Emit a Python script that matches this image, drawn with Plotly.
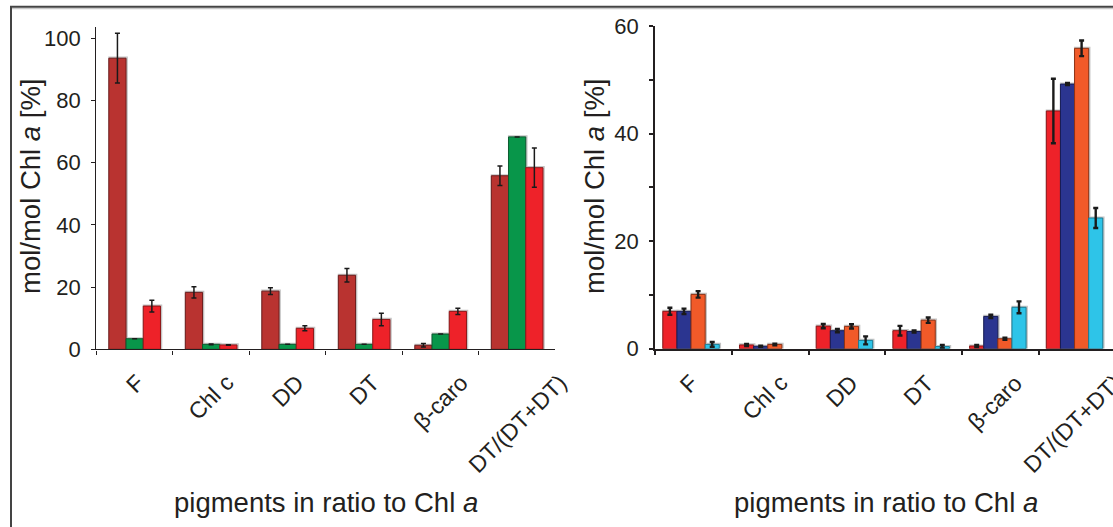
import plotly.graph_objects as go

W, H = 1113, 527

categories = ["F", "Chl c", "DD", "DT", "β-caro", "DT/(DT+DT)"]

# Left panel series
left_darkred = [93.6, 18.3, 18.7, 23.8, 1.3, 55.8]
left_darkred_err = [8.0, 1.8, 1.1, 2.2, 0.6, 3.1]
left_green = [3.4, 1.6, 1.6, 1.6, 4.9, 68.3]
left_green_err = [None, 0.1, None, None, None, None]
left_red = [13.9, 1.4, 6.75, 9.6, 12.2, 58.4]
left_red_err = [1.9, 0.1, 0.8, 2.0, 1.0, 6.3]

# Right panel series
right_red = [6.95, 0.7, 4.2, 3.35, 0.5, 44.2]
right_red_err = [0.65, 0.2, 0.4, 0.9, 0.2, 6.0]
right_blue = [6.95, 0.45, 3.35, 3.2, 6.0, 49.2]
right_blue_err = [0.5, 0.1, 0.3, 0.2, 0.3, 0.2]
right_orange = [10.1, 0.8, 4.15, 5.3, 1.85, 55.85]
right_orange_err = [0.6, 0.15, 0.4, 0.5, 0.2, 1.45]
right_cyan = [0.8, None, 1.55, 0.4, 7.7, 24.3]
right_cyan_err = [0.45, None, 0.75, 0.3, 1.1, 1.85]

left_ticks = [0, 20, 40, 60, 80, 100]
right_ticks = [0, 10, 20, 30, 40, 50, 60]
right_ticktext = ["0", "", "20", "", "40", "", "60"]

FONT = "Liberation Sans, Arial, sans-serif"
TXT = "#231F20"


def px_x(p):
    return p / W


def px_y(p):
    return 1 - p / H


# geometry (pixels)
L_X0, L_X1 = 96.4, 555.4
L_Y0, L_Y1 = 349.3, 26.7
L_PXU = 3.11
R_X0, R_X1 = 655.2, 1113
R_Y0, R_Y1 = 348.7, 26.0
CAT_PX_L = (L_X1 - L_X0) / 6
CAT_PX_R = 76.7

fig = go.Figure()


def add_series(vals, errs, color, line_color, offset, width, xa, ya, err_th, cat_px, unit_px):
    # light grey halo/shadow behind each bar
    sh_vals = [None if v is None else v + 1.6 / unit_px for v in vals]
    fig.add_trace(go.Bar(
        x=categories, y=sh_vals, xaxis=xa, yaxis=ya,
        offset=offset - 0.6 / cat_px, width=width + 2.4 / cat_px,
        marker=dict(color="#C4C4C4", line=dict(width=0)),
        showlegend=False, hoverinfo="skip"))
    return dict(x=categories, y=vals, xaxis=xa, yaxis=ya, offset=offset, width=width,
                marker=dict(color=color, line=dict(color=line_color, width=1)),
                error_y=dict(type="data", array=errs, visible=True, color="#1A1A1A",
                             thickness=err_th, width=2.5),
                showlegend=False)


bars = []
wl = 0.225
lser = [
    (left_darkred, left_darkred_err, "#B93330", "#6E1C1C"),
    (left_green, left_green_err, "#08964A", "#0B5A2F"),
    (left_red, left_red_err, "#EE2229", "#8E1719"),
]
for i, (v, e, c, lc) in enumerate(lser):
    bars.append(add_series(v, e, c, lc, -1.5 * wl + i * wl, wl, "x", "y", 1.5, CAT_PX_L, L_PXU))

wr = 0.184
r_shift = -2.5 / CAT_PX_R
R_PXU = (R_Y0 - R_Y1) / 60
rser = [
    (right_red, right_red_err, "#EE2229", "#8E1719"),
    (right_blue, right_blue_err, "#2B3590", "#161C55"),
    (right_orange, right_orange_err, "#F15A29", "#8E3214"),
    (right_cyan, right_cyan_err, "#2EC4E8", "#1B7C95"),
]
for i, (v, e, c, lc) in enumerate(rser):
    bars.append(add_series(v, e, c, lc, -2 * wr + i * wr + r_shift, wr, "x2", "y2", 2.4, CAT_PX_R, R_PXU))

for b in bars:
    fig.add_trace(go.Bar(**b))

axis_font = dict(family=FONT, size=22, color=TXT)

fig.update_layout(
    width=W, height=H, autosize=False,
    margin=dict(l=0, r=0, t=0, b=0, pad=0, autoexpand=False),
    showlegend=False,
    paper_bgcolor="white", plot_bgcolor="white",
    barmode="overlay",
    font=dict(family=FONT, color=TXT),
    xaxis=dict(domain=[px_x(L_X0), px_x(L_X1)], type="category",
               categoryorder="array", categoryarray=categories,
               range=[-0.5, 5.5], showline=True, linecolor=TXT, linewidth=1.4,
               ticks="outside", tickson="boundaries", ticklen=4, tickwidth=1.2,
               tickcolor=TXT, showticklabels=False, showgrid=False, zeroline=False,
               anchor="y", automargin=False),
    yaxis=dict(domain=[px_y(L_Y0), px_y(L_Y1)],
               range=[0, (L_Y0 - L_Y1) / L_PXU], showline=True, linecolor=TXT,
               linewidth=1.4, ticks="outside", ticklen=4, tickwidth=1.2, tickcolor=TXT,
               tickvals=left_ticks, tickfont=axis_font, showgrid=False,
               zeroline=False, anchor="x", ticklabelstandoff=6, automargin=False),
    xaxis2=dict(domain=[px_x(R_X0), 1.0], type="category",
                categoryorder="array", categoryarray=categories,
                range=[-0.5, -0.5 + (R_X1 - R_X0) / CAT_PX_R], showline=True,
                linecolor=TXT, linewidth=2.2, ticks="outside", tickson="boundaries",
                ticklen=4, tickwidth=2, tickcolor=TXT, showticklabels=False,
                showgrid=False, zeroline=False, anchor="y2", automargin=False),
    yaxis2=dict(domain=[px_y(R_Y0), px_y(R_Y1)], range=[0, 60], showline=True,
                linecolor=TXT, linewidth=2.2, ticks="outside", ticklen=4, tickwidth=2,
                tickcolor=TXT, tickvals=right_ticks, ticktext=right_ticktext,
                tickfont=axis_font, showgrid=False, zeroline=False, anchor="x2",
                ticklabelstandoff=6, automargin=False),
)

ann = []
lab_font = dict(family=FONT, size=23, color=TXT)
for c in categories:
    ann.append(dict(x=c, xref="x", y=px_y(367), yref="paper", text=c, showarrow=False,
                    textangle=-45, xanchor="center", yanchor="top", font=lab_font))
    ann.append(dict(x=c, xref="x2", y=px_y(367), yref="paper", text=c, showarrow=False,
                    textangle=-45, xanchor="center", yanchor="top", xshift=-5,
                    font=lab_font))

title_font = dict(family=FONT, size=27.5, color=TXT)
xtitle = "pigments in ratio to Chl <i>a</i>"
ytitle = "mol/mol Chl <i>a</i> [%]"
ann.append(dict(x=px_x((L_X0 + L_X1) / 2), xref="paper", y=px_y(502), yref="paper",
                text=xtitle, showarrow=False, xanchor="center", yanchor="middle",
                font=title_font))
ann.append(dict(x=px_x(885.5), xref="paper", y=px_y(502), yref="paper",
                text=xtitle, showarrow=False, xanchor="center", yanchor="middle",
                font=title_font))
ann.append(dict(x=px_x(30), xref="paper", y=px_y(187), yref="paper", text=ytitle,
                showarrow=False, textangle=-90, xanchor="center", yanchor="middle",
                font=title_font))
ann.append(dict(x=px_x(594), xref="paper", y=px_y(187), yref="paper", text=ytitle,
                showarrow=False, textangle=-90, xanchor="center", yanchor="middle",
                font=title_font))
fig.update_layout(annotations=ann)

# outer frame (left and top edges)
fig.update_layout(shapes=[
    dict(type="line", xref="paper", yref="paper", x0=px_x(11), x1=1.0,
         y0=px_y(8.5), y1=px_y(8.5), line=dict(color="#C8C8C8", width=1.5)),
    dict(type="line", xref="paper", yref="paper", x0=px_x(11), x1=px_x(11),
         y0=px_y(6.5), y1=0, line=dict(color="#444444", width=2)),
    dict(type="line", xref="paper", yref="paper", x0=px_x(10), x1=1.0,
         y0=px_y(6.8), y1=px_y(6.8), line=dict(color="#444444", width=2)),
])

fig.write_html("out.html")
